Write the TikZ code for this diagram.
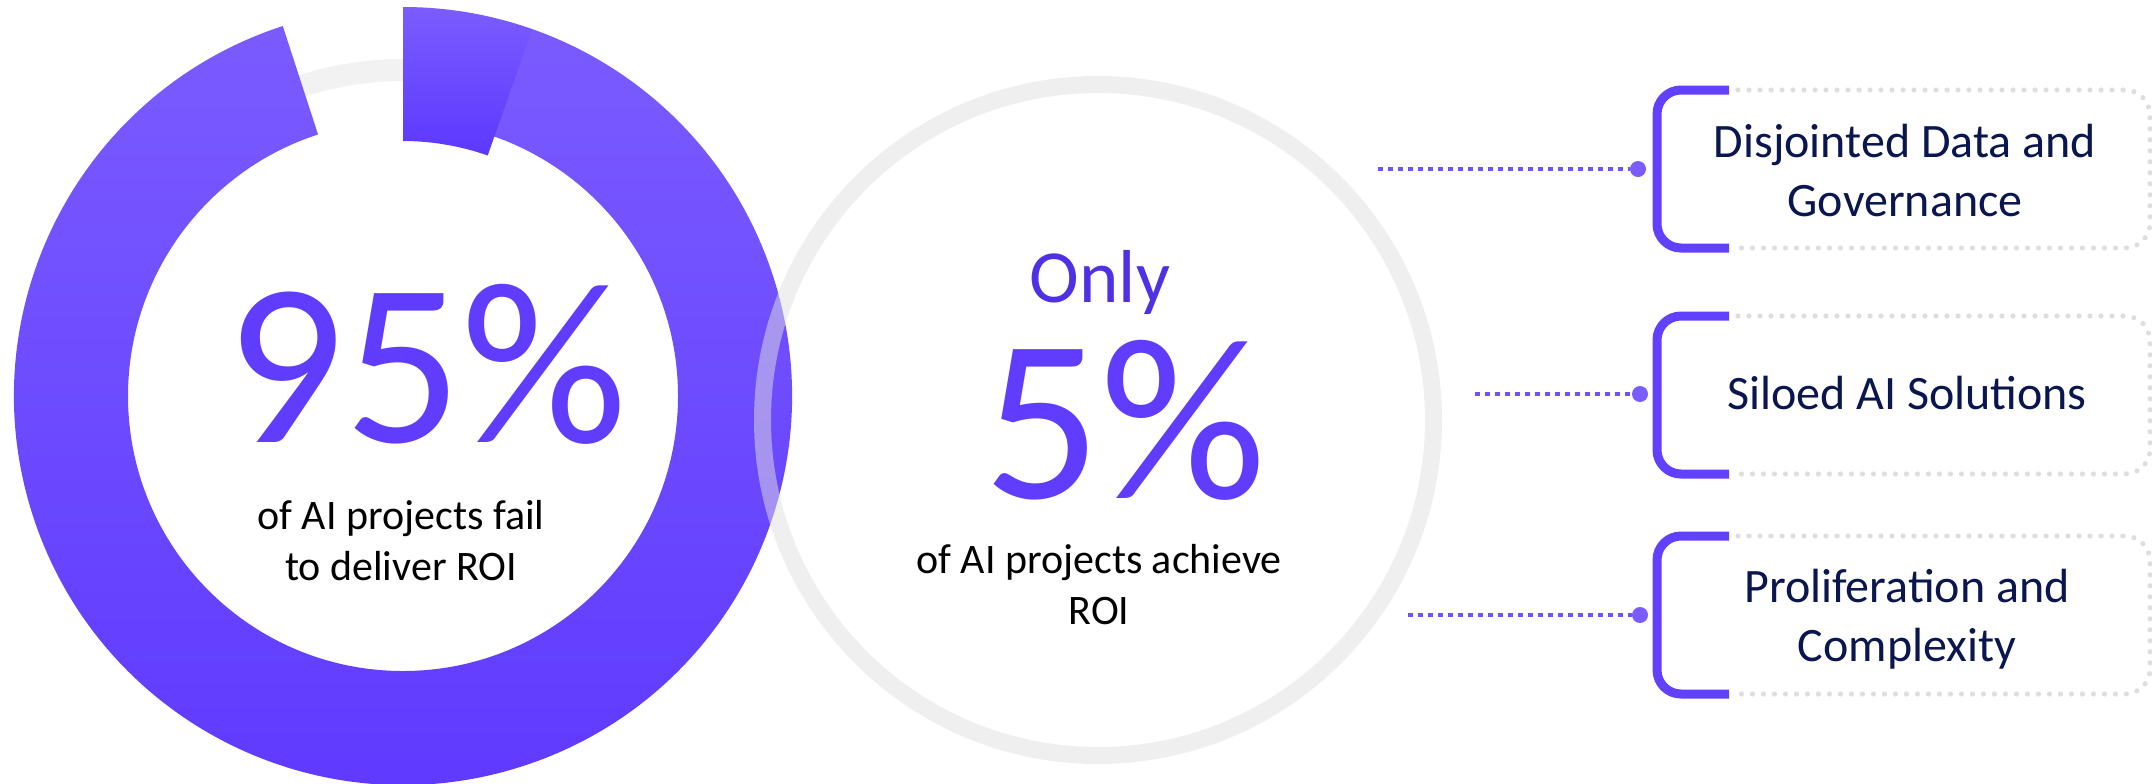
\documentclass[tikz,border=0pt]{standalone}
\usepackage{fontspec}
\setmainfont{Carlito}
\usetikzlibrary{calc}
\definecolor{ringtop}{RGB}{123,92,255}
\definecolor{ringbot}{RGB}{94,56,255}
\definecolor{piecebot}{RGB}{92,56,255}
\definecolor{numcol}{RGB}{96,60,255}
\definecolor{onlycol}{RGB}{80,48,228}
\definecolor{trackgray}{RGB}{242,242,242}
\definecolor{ringgray}{RGB}{225,225,225}
\definecolor{brackcol}{RGB}{98,64,255}
\definecolor{dotcol}{RGB}{123,92,255}
\definecolor{linecol}{RGB}{112,80,255}
\definecolor{boxgray}{RGB}{222,222,222}
\definecolor{navy}{RGB}{10,22,80}
\begin{document}
\begin{tikzpicture}[x=0.5pt,y=-0.5pt,
  bignum/.style={font=\fontsize{116}{116}\selectfont, text=numcol, inner sep=0pt, anchor=base},
  onlytext/.style={font=\fontsize{37.5}{40}\selectfont, text=onlycol, inner sep=0pt, anchor=base},
  caption/.style={font=\fontsize{21}{25}\selectfont, text=black, inner sep=0pt, anchor=base},
  boxtext/.style={font=\fontsize{24}{29}\selectfont, text=navy, inner sep=0pt, anchor=base},
  connector/.style={linecol, line width=2pt, dash pattern=on 2.25pt off 2.75pt},
  enddot/.style={circle, fill=dotcol, minimum size=8pt, inner sep=0pt},
  bracket/.style={brackcol, line width=4.5pt},
  dotbox/.style={boxgray, line width=2.6pt, line cap=round, dash pattern=on 0pt off 5.5pt},
]
\fill[white] (0,0) rectangle (2152,783);
\useasboundingbox (0,0) rectangle (2152,783);

% ---- left ring (95%) ----
\coordinate (c1) at (403,396);
\draw[trackgray, line width=11pt] (c1) circle[radius=326];
\shade[top color=ringtop, bottom color=ringbot]
  ($(c1)+(-108:389)$) arc[start angle=-108, end angle=-450, radius=389]
  -- ($(c1)+(-450:275)$) arc[start angle=-450, end angle=-108, radius=275] -- cycle;
\shade[top color=ringtop, middle color=ringtop!80!piecebot, bottom color=piecebot]
  ($(c1)+(-90:388)$) arc[start angle=-90, end angle=-70.6, radius=388]
  -- ($(c1)+(-70.6:255)$) arc[start angle=-70.6, end angle=-90, radius=255] -- cycle;

% ---- right grey circle (5%) ----
\coordinate (c2) at (1098,420);
\draw[ringgray, opacity=0.5, line width=8.5pt] (c2) circle[radius=335.5];

% ---- texts ----
\node[bignum] (n95) at (427,442) {95\%};
\node[caption] (c95a) at (401,529) {of AI projects fail};
\node[caption] (c95b) at (401,580) {to deliver ROI};
\node[onlytext] (only) at (1100,302) {Only};
\node[bignum] (n5) at (1125,498) {5\%};
\node[caption] (c5a) at (1099,573) {of AI projects achieve};
\node[caption] (c5b) at (1099,624) {ROI};

% ---- box 1 ----
\draw[dotbox] (1738,90) -- (2125,90) arc[start angle=-90, end angle=0, radius=25]
  -- (2150,223) arc[start angle=0, end angle=90, radius=25] -- (1738,248);
\draw[bracket] (1729,90) -- (1681,90) arc[start angle=-90, end angle=-180, radius=24]
  -- (1657,224) arc[start angle=180, end angle=90, radius=24] -- (1729,248);
\coordinate (s1) at (1378,169);
\node[enddot] (d1) at (1638,169) {};
\draw[connector] (s1) -- (d1);
\node[boxtext] (t1a) at (1905,157) {Disjointed Data and};
\node[boxtext] (t1b) at (1905,216) {Governance};

% ---- box 2 ----
\draw[dotbox] (1738,316) -- (2125,316) arc[start angle=-90, end angle=0, radius=25]
  -- (2150,449) arc[start angle=0, end angle=90, radius=25] -- (1738,474);
\draw[bracket] (1729,316) -- (1681,316) arc[start angle=-90, end angle=-180, radius=24]
  -- (1657,450) arc[start angle=180, end angle=90, radius=24] -- (1729,474);
\coordinate (s2) at (1475,394);
\node[enddot] (d2) at (1640,394) {};
\draw[connector] (s2) -- (d2);
\node[boxtext] (t2) at (1907,409) {Siloed AI Solutions};

% ---- box 3 ----
\draw[dotbox] (1738,536) -- (2125,536) arc[start angle=-90, end angle=0, radius=25]
  -- (2150,669) arc[start angle=0, end angle=90, radius=25] -- (1738,694);
\draw[bracket] (1729,536) -- (1681,536) arc[start angle=-90, end angle=-180, radius=24]
  -- (1657,670) arc[start angle=180, end angle=90, radius=24] -- (1729,694);
\coordinate (s3) at (1408,615);
\node[enddot] (d3) at (1640,615) {};
\draw[connector] (s3) -- (d3);
\node[boxtext] (t3a) at (1907,602) {Proliferation and};
\node[boxtext] (t3b) at (1907,661) {Complexity};
\end{tikzpicture}
\end{document}
